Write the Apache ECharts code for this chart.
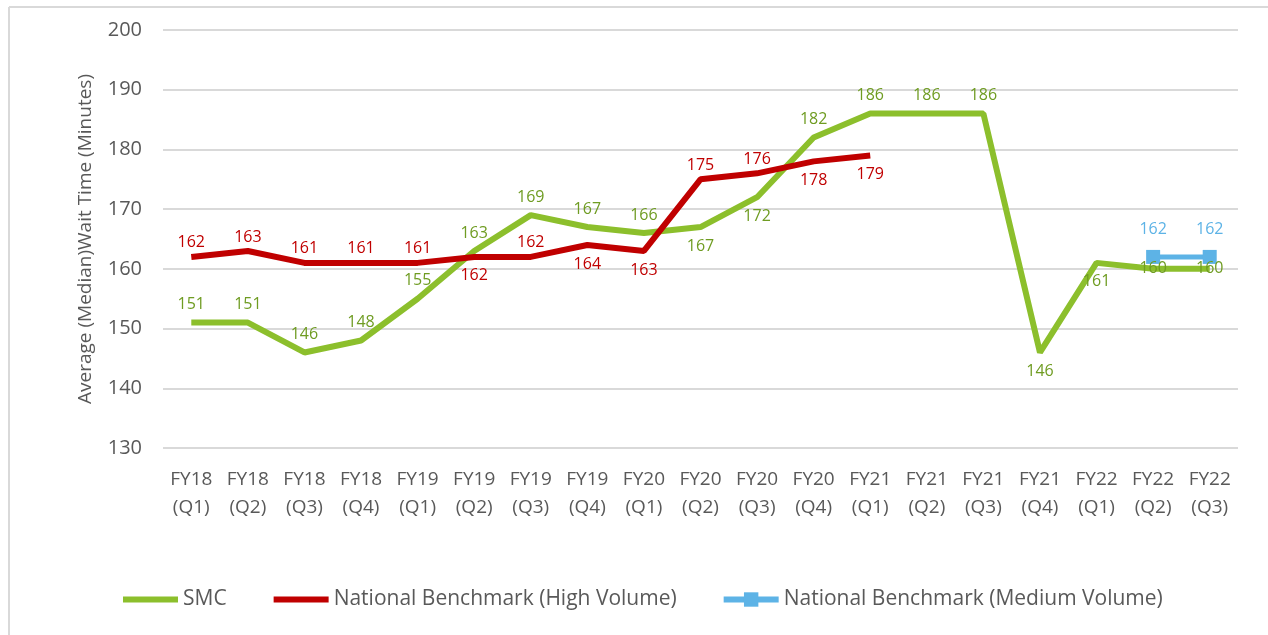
<!DOCTYPE html>
<html>
<head>
<meta charset="utf-8">
<script src="https://cdn.jsdelivr.net/npm/echarts@6/dist/echarts.min.js"></script>
<style>
  html, body { margin: 0; padding: 0; background: #fff; }
  #chart { width: 1268px; height: 635px; }
</style>
</head>
<body>
<div id="chart"></div>
<script>
// quarters on the x axis
const quarters = [
  'FY18\n(Q1)', 'FY18\n(Q2)', 'FY18\n(Q3)', 'FY18\n(Q4)',
  'FY19\n(Q1)', 'FY19\n(Q2)', 'FY19\n(Q3)', 'FY19\n(Q4)',
  'FY20\n(Q1)', 'FY20\n(Q2)', 'FY20\n(Q3)', 'FY20\n(Q4)',
  'FY21\n(Q1)', 'FY21\n(Q2)', 'FY21\n(Q3)', 'FY21\n(Q4)',
  'FY22\n(Q1)', 'FY22\n(Q2)', 'FY22\n(Q3)'
]
const smc = [151, 151, 146, 148, 155, 163, 169, 167, 166, 167, 172, 182, 186, 186, 186, 146, 161, 160, 160]
const highVolume = [162, 163, 161, 161, 161, 162, 162, 164, 163, 175, 176, 178, 179, null, null, null, null, null, null]
const mediumVolume = [null, null, null, null, null, null, null, null, null, null, null, null, null, null, null, null, null, 162, 162]

// where each value label sits (t = top, b = bottom, c = on the point)
const smcLabelAt = ['t', 't', 't', 't', 't', 't', 't', 't', 't', 'b', 'b', 't', 't', 't', 't', 'b', 'b', 'c', 'c']
const highLabelAt = ['t', 't', 't', 't', 't', 'b', 't', 'b', 'b', 't', 't', 'b', 'b']

const posName = {t: 'top', b: 'bottom', c: 'inside'}
const withLabels = (values, where, up, down) => values.map((v, i) => {
  if (v === null) return null
  const p = where[i] || 't'
  return {value: v, label: {position: posName[p], distance: p === 'b' ? down : up}}
})

const grey = '#595959'
const font = 'Open Sans, Liberation Sans, sans-serif'

const chart = echarts.init(document.getElementById('chart'))
chart.setOption({
  animation: false,
  textStyle: {fontFamily: font},
  graphic: [
    {type: 'line', shape: {x1: 9, y1: 7, x2: 1268, y2: 7}, style: {stroke: '#d9d9d9', lineWidth: 2}},
    {type: 'line', shape: {x1: 9, y1: 7, x2: 9, y2: 635}, style: {stroke: '#d9d9d9', lineWidth: 2}}
  ],
  grid: {left: 163, right: 30, top: 30, bottom: 187},
  legend: {
    left: 120,
    top: 589,
    padding: 0,
    itemWidth: 55,
    itemHeight: 18,
    itemGap: 44,
    textStyle: {color: grey, fontSize: 21, fontFamily: font},
    lineStyle: {width: 6},
    data: [
      {name: 'SMC', itemStyle: {opacity: 0}},
      {name: 'National Benchmark (High Volume)', itemStyle: {opacity: 0}},
      {name: 'National Benchmark (Medium Volume)'}
    ]
  },
  xAxis: {
    type: 'category',
    data: quarters,
    boundaryGap: true,
    axisLine: {show: false},
    axisTick: {show: false},
    axisLabel: {color: grey, fontSize: 19, lineHeight: 28, margin: 18, interval: 0}
  },
  yAxis: {
    type: 'value',
    min: 130,
    max: 200,
    interval: 10,
    name: 'Average (Median)Wait Time (Minutes)',
    nameLocation: 'middle',
    nameGap: 68,
    nameTextStyle: {color: grey, fontSize: 19},
    axisLine: {show: false},
    axisTick: {show: false},
    axisLabel: {color: grey, fontSize: 20, margin: 21},
    splitLine: {lineStyle: {color: '#d9d9d9', width: 2}}
  },
  series: [
    {
      name: 'SMC',
      type: 'line',
      data: withLabels(smc, smcLabelAt, 10, 11),
      symbol: 'circle',
      symbolSize: 0,
      lineStyle: {color: '#8CBF2C', width: 6},
      itemStyle: {color: '#8CBF2C'},
      label: {show: true, color: '#6F9C22', fontSize: 16},
      z: 2
    },
    {
      name: 'National Benchmark (High Volume)',
      type: 'line',
      data: withLabels(highVolume, highLabelAt, 6, 11),
      symbol: 'circle',
      symbolSize: 0,
      lineStyle: {color: '#C00000', width: 6},
      itemStyle: {color: '#C00000'},
      label: {show: true, color: '#C00000', fontSize: 16},
      z: 3
    },
    {
      name: 'National Benchmark (Medium Volume)',
      type: 'line',
      data: mediumVolume,
      symbol: 'rect',
      symbolSize: 14,
      lineStyle: {color: '#5DB3E6', width: 5},
      itemStyle: {color: '#5DB3E6'},
      label: {show: true, position: 'top', color: '#5DB3E6', fontSize: 16, distance: 12},
      z: 1
    }
  ]
})
</script>
</body>
</html>
